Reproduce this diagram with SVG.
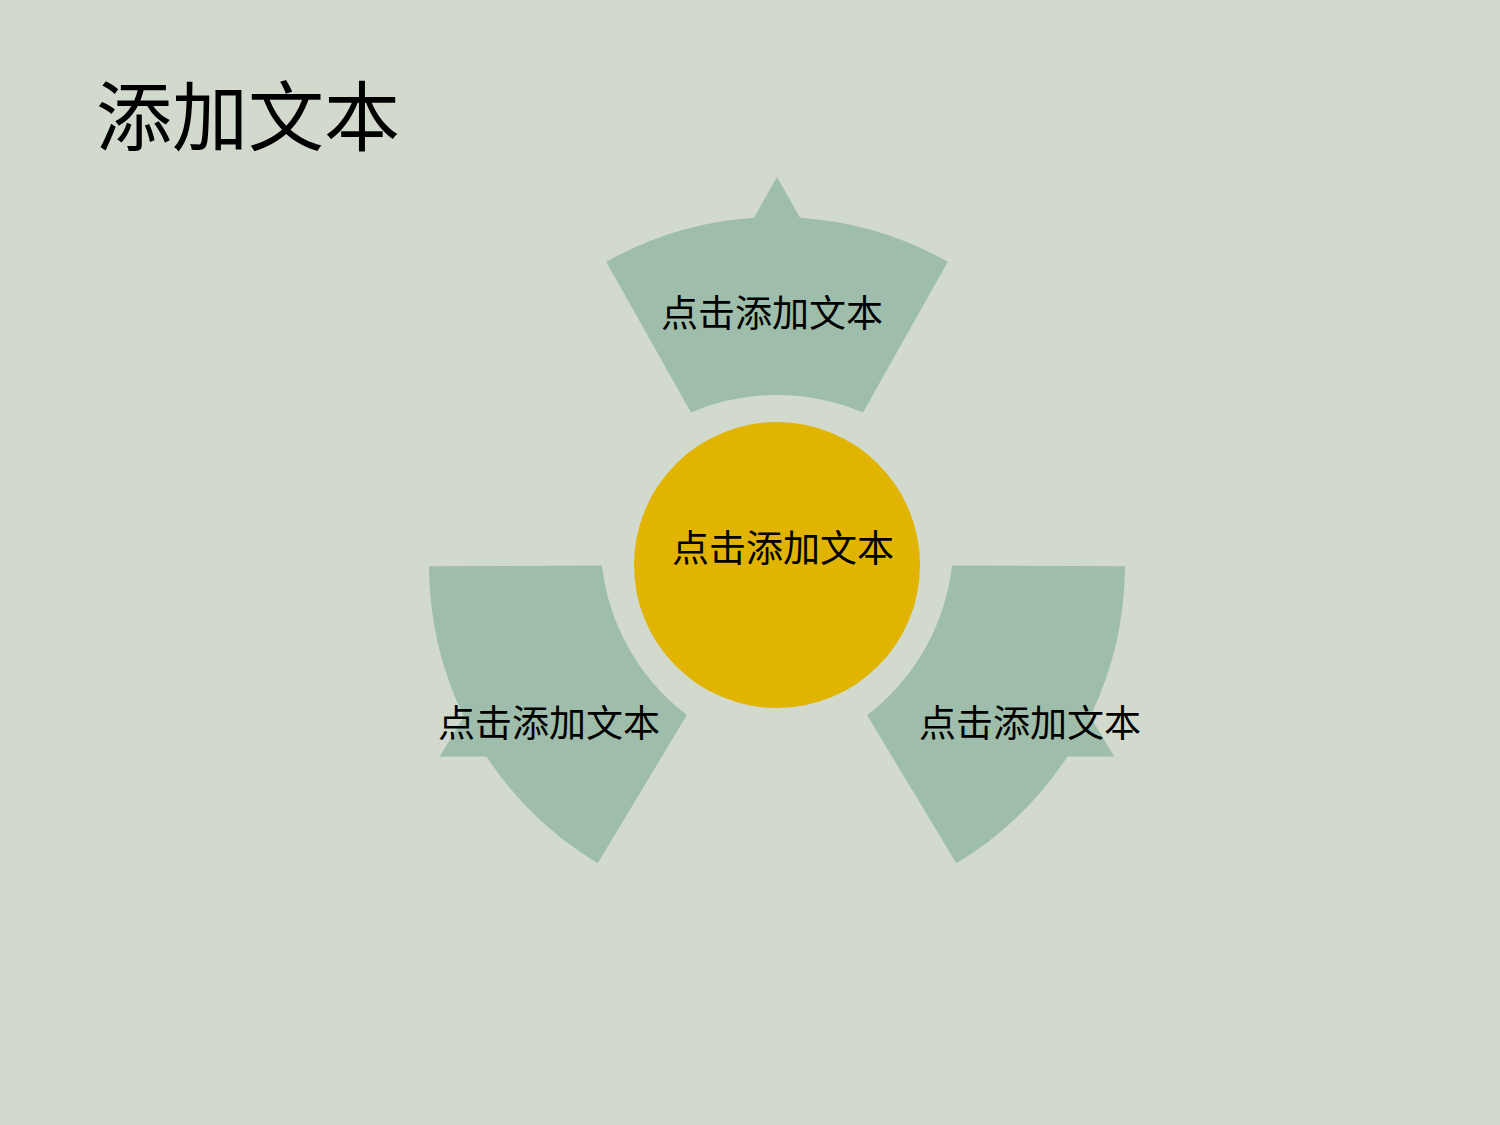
<svg xmlns="http://www.w3.org/2000/svg" width="1500" height="1125" viewBox="0 0 1500 1125">
<style>
.sec{fill:#9EBDAB}
.lbl{font-family:"Noto Sans CJK SC","Microsoft YaHei",sans-serif;font-size:37px;fill:#000;text-anchor:middle}
.ttl{font-family:"Noto Sans CJK SC","Microsoft YaHei",sans-serif;font-size:76px;fill:#000}
</style>
<defs>
<path id="sector" d="M -170.8,-303.2 A 348 348 0 0 1 -23,-347.2 L 0,-388 L 23,-347.2 A 348 348 0 0 1 170.8,-303.2 L 86,-152.5 A 220 220 0 0 0 -86,-152.5 Z"/>
</defs>
<rect width="1500" height="1125" fill="#D2DACE"/>
<text class="ttl" x="96" y="145">添加文本</text>
<g id="connectors"></g>
<g id="node-top">
<use href="#sector" class="sec" transform="translate(777,565)"/>
<text class="lbl" x="772" y="327">点击添加文本</text>
</g>
<g id="node-right">
<use href="#sector" class="sec" transform="translate(777,565) rotate(119.6)"/>
<text class="lbl" x="1030" y="737">点击添加文本</text>
</g>
<g id="node-left">
<use href="#sector" class="sec" transform="translate(777,565) rotate(240.4)"/>
<text class="lbl" x="549" y="737">点击添加文本</text>
</g>
<g id="node-center">
<circle cx="777" cy="565" r="143" fill="#E0B400"/>
<text class="lbl" x="783" y="562">点击添加文本</text>
</g>
</svg>
